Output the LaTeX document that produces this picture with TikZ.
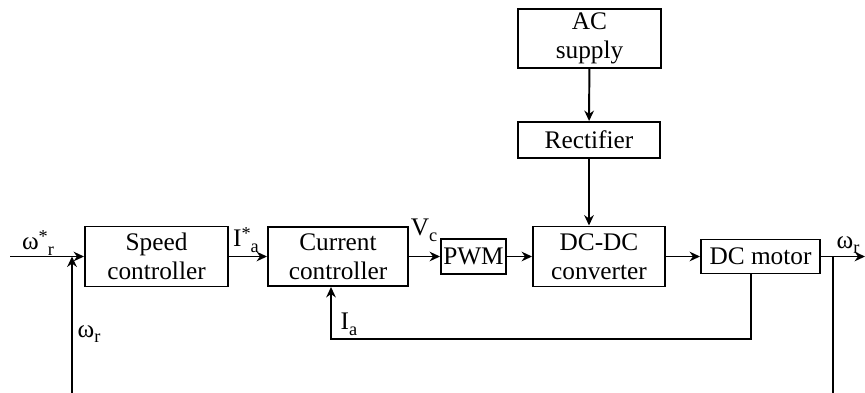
\documentclass[tikz,border=0pt]{standalone}
\usepackage{fontspec}
\setmainfont{Liberation Serif}
\usetikzlibrary{arrows.meta,positioning,calc}
\tikzset{
  >={Stealth[length=2.6mm,width=2.4mm]},
  blk/.style={draw=black,line width=1.4pt,inner sep=1pt,align=center,font=\fontsize{18}{20.6}\selectfont},
  lbl/.style={font=\fontsize{18}{20.6}\selectfont,inner sep=0pt},
  arr/.style={->,draw=black,line width=1.4pt},
}
\newcommand{\sig}[3]{#1\raisebox{0.6ex}{\fontsize{13}{13}\selectfont#2}\raisebox{-0.5ex}{\fontsize{13}{13}\selectfont#3}}

\begin{document}
\begin{tikzpicture}[x=0.25mm,y=-0.25mm]
\useasboundingbox (0,0) rectangle (865,392);
\clip (0,0) rectangle (865,392);
% blocks
\node[blk,minimum width=35.75mm,minimum height=14.75mm] (ac) at (589.5,38.5) {AC\\supply};
\node[blk,minimum width=35.5mm,minimum height=9mm] (rect) at (589,140) {Rectifier};
\node[blk,minimum width=35.75mm,minimum height=15mm] (speed) at (156.5,256.5) {Speed\\controller};
\node[blk,minimum width=35mm,minimum height=14.75mm] (curr) at (338,256.5) {Current\\controller};
\node[blk,minimum width=16.25mm,minimum height=8.75mm] (pwm) at (473.5,256.5) {PWM};
\node[blk,minimum width=33mm,minimum height=15mm] (dcdc) at (599,256.5) {DC-DC\\converter};
\node[blk,minimum width=29.75mm,minimum height=8.5mm] (motor) at (760.5,256.5) {DC motor};
% loose ends and corners
\coordinate (in) at (10,256.5);
\coordinate (out) at (865,256.5);
\coordinate (br) at (833,256.5);
\coordinate (wb) at (833,396);
\coordinate (wa) at (72,396);
\coordinate (iab) at (751,339);
\coordinate (iaa) at (331,339);
% forward path
\draw[arr] (in) -- (speed);
\draw[arr] (speed) -- (curr);
\draw[arr] (curr) -- (pwm);
\draw[arr] (pwm) -- (dcdc);
\draw[arr] (dcdc) -- (motor);
\draw[arr] (motor) -- (out);
\draw[arr] (ac) -- (rect);
\draw[arr] (rect) -- (rect |- dcdc.north);
% feedback
\draw[arr] (motor.south -| iab) -- (iab) -- (iaa) -- (iaa |- curr.south);
\draw[arr] (br) -- (wb) -- (wa) -- (wa |- in);
% signal names
\node[lbl] (wref) at (38,243) {\sig{ω}{*}{r}};
\node[lbl] (iref) at (246,240) {\sig{I}{*}{a}};
\node[lbl] (vc) at (424,230) {\sig{V}{}{c}};
\node[lbl] (wout) at (848,245) {\sig{ω}{}{r}};
\node[lbl] (wfb) at (89,334) {\sig{ω}{}{r}};
\node[lbl] (ia) at (349,324) {\sig{I}{}{a}};
\end{tikzpicture}
\end{document}
